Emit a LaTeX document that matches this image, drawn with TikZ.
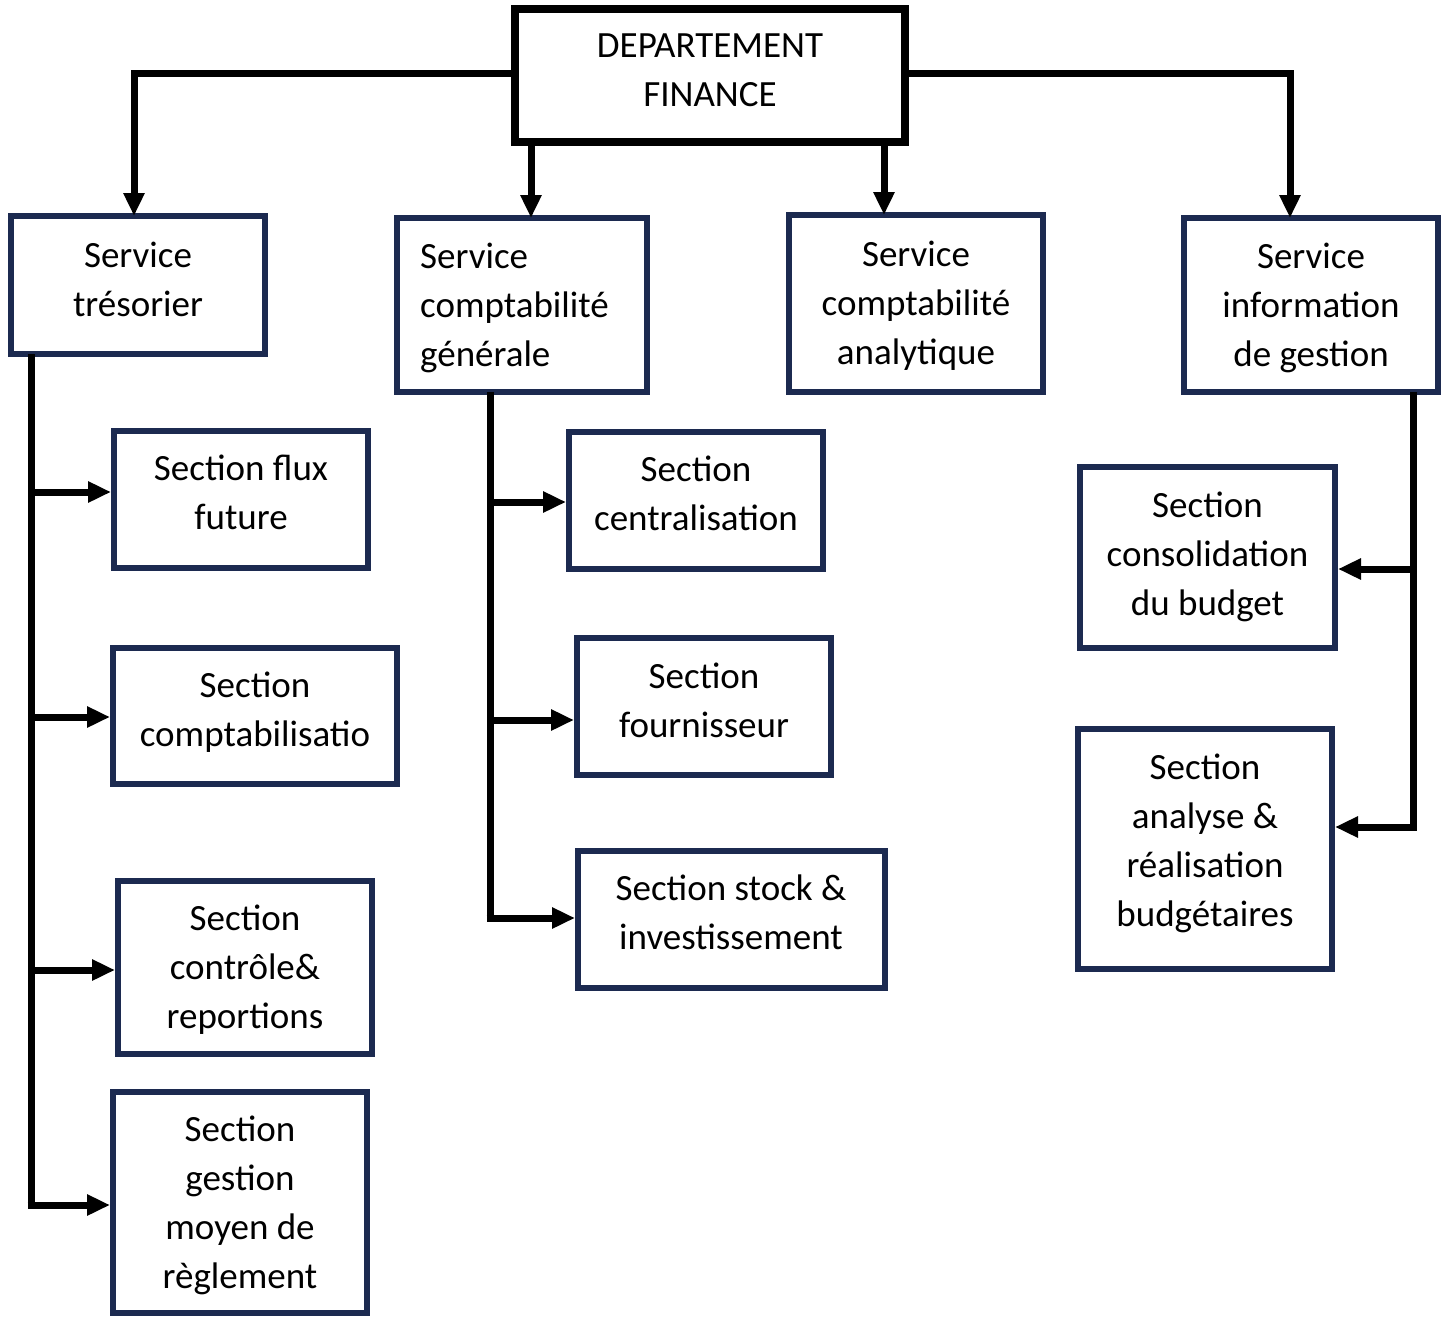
\documentclass[tikz,border=0pt]{standalone}
\usepackage{fontspec}
\setmainfont{Carlito}
\usetikzlibrary{arrows.meta}
\definecolor{navy}{RGB}{28,42,80}
\begin{document}
\begin{tikzpicture}[x=1pt,y=-1pt,
  font=\fontsize{37}{49}\selectfont,
  box/.style={draw=navy,line width=6pt,rectangle,inner sep=0pt,fill=white},
  topbox/.style={draw=black,line width=8pt,rectangle,inner sep=0pt,fill=white},
  txt/.style={inner sep=0pt,align=center},
  conn/.style={draw=black,line width=7pt,line join=miter,-{Triangle[length=23pt,width=20pt]}},
  trunk/.style={draw=black,line width=7pt,line join=miter}]
\useasboundingbox (0,0) rectangle (1448,1317);

% top
\node[topbox,minimum width=390pt,minimum height=133pt] (top) at (710,75.5) {};
\node[txt] (topT) at (710,70.5) {DEPARTEMENT\\FINANCE};

% services
\node[box,minimum width=254pt,minimum height=138pt] (tres) at (138,285) {};
\node[txt] (tresT) at (138,279.5) {Service\\trésorier};
\node[box,minimum width=250pt,minimum height=174pt] (gen) at (522,305) {};
\node[txt,align=left,anchor=west] (genT) at (420,308) {Service\\comptabilité\\générale};
\node[box,minimum width=254pt,minimum height=177pt] (ana) at (916,303.5) {};
\node[txt] (anaT) at (916,305.5) {Service\\comptabilité\\analytique};
\node[box,minimum width=254pt,minimum height=174pt] (info) at (1311,305) {};
\node[txt] (infoT) at (1311,308) {Service\\information\\de gestion};

% left sections
\node[box,minimum width=254pt,minimum height=137pt] (flux) at (241,499.5) {};
\node[txt] (fluxT) at (241,492.5) {Section flux\\future};
\node[box,minimum width=284pt,minimum height=136pt] (compta) at (255,716) {};
\node[txt] (comptaT) at (255,712.5) {Section\\comptabilisatio};
\node[box,minimum width=254pt,minimum height=173pt] (ctrl) at (245,967.5) {};
\node[txt] (ctrlT) at (245,970) {Section\\contrôle\&\\reportions};
\node[box,minimum width=254pt,minimum height=221pt] (gest) at (240,1202.5) {};
\node[txt] (gestT) at (240,1205.5) {Section\\gestion\\moyen de\\règlement};

% middle sections
\node[box,minimum width=254pt,minimum height=137pt] (centr) at (696,500.5) {};
\node[txt] (centrT) at (696,493) {Section\\centralisation};
\node[box,minimum width=254pt,minimum height=137pt] (four) at (704,706.5) {};
\node[txt] (fourT) at (704,700) {Section\\fournisseur};
\node[box,minimum width=307pt,minimum height=137pt] (stock) at (731.5,919.5) {};
\node[txt] (stockT) at (731,912.5) {Section stock \&\\investissement};

% right sections
\node[box,minimum width=255pt,minimum height=181pt] (cons) at (1207.5,557.5) {};
\node[txt] (consT) at (1207.5,557) {Section\\consolidation\\du budget};
\node[box,minimum width=254pt,minimum height=240pt] (anal) at (1205,849) {};
\node[txt] (analT) at (1205,843.5) {Section\\analyse \&\\réalisation\\budgétaires};

% top connectors
\coordinate (tt) at (134,216);
\coordinate (tg) at (531,218);
\coordinate (ta) at (884,215);
\coordinate (ti) at (1290,218);
\coordinate (hy) at (0,73);
\draw[conn] (top.west |- hy) -| (tt);
\draw[conn] (top.south -| tg) -- (tg);
\draw[conn] (top.south -| ta) -- (ta);
\draw[conn] (top.east |- hy) -| (ti);

% left trunk
\coordinate (L0) at (31,354);
\coordinate (ly1) at (0,492);
\coordinate (ly2) at (0,717);
\coordinate (ly3) at (0,970);
\coordinate (ly4) at (0,1205);
\draw[trunk] (L0) -- (L0 |- ly4);
\draw[conn] (L0 |- ly1) -- (flux.west |- ly1);
\draw[conn] (L0 |- ly2) -- (compta.west |- ly2);
\draw[conn] (L0 |- ly3) -- (ctrl.west |- ly3);
\draw[conn] ([xshift=-3.5pt]L0 |- ly4) -- (gest.west |- ly4);

% middle trunk
\coordinate (M0) at (490,392);
\coordinate (my1) at (0,502);
\coordinate (my2) at (0,720);
\coordinate (my3) at (0,918);
\draw[trunk] (M0) -- (M0 |- my3);
\draw[conn] (M0 |- my1) -- (centr.west |- my1);
\draw[conn] (M0 |- my2) -- (four.west |- my2);
\draw[conn] ([xshift=-3.5pt]M0 |- my3) -- (stock.west |- my3);

% right trunk
\coordinate (R0) at (1413,392);
\coordinate (ry1) at (0,569);
\coordinate (ry2) at (0,827);
\draw[trunk] (R0) -- (R0 |- ry2);
\draw[conn] (R0 |- ry1) -- (cons.east |- ry1);
\draw[conn] ([xshift=3.5pt]R0 |- ry2) -- (anal.east |- ry2);
\end{tikzpicture}
\end{document}
